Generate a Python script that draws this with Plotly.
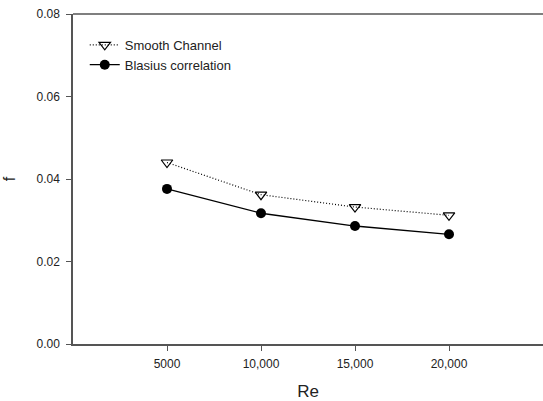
import plotly.graph_objects as go

re_values = [5000, 10000, 15000, 20000]
smooth_f = [0.0440, 0.0362, 0.0332, 0.0312]
blasius_f = [0.0376, 0.0317, 0.0286, 0.0266]
x_tick_vals = [5000, 10000, 15000, 20000]
x_tick_text = ["5000", "10,000", "15,000", "20,000"]
y_tick_vals = [0.00, 0.02, 0.04, 0.06, 0.08]

fig = go.Figure()
fig.add_trace(go.Scatter(
    x=re_values, y=smooth_f, name="Smooth Channel", mode="lines+markers",
    line=dict(color="black", width=1.2, dash="1px,2px"),
    marker=dict(symbol="triangle-down-open", size=10, color="black", line=dict(width=1.2, color="black")),
))
fig.add_trace(go.Scatter(
    x=re_values, y=blasius_f, name="Blasius correlation", mode="lines+markers",
    line=dict(color="black", width=1.3),
    marker=dict(symbol="circle", size=10, color="black"),
))

axis_col = "#555555"
fig.update_layout(
    width=543, height=401,
    margin=dict(l=73, r=0, t=14, b=57),
    paper_bgcolor="white", plot_bgcolor="white",
    font=dict(family="Liberation Sans, Arial, sans-serif", color="#222222"),
    showlegend=True,
    legend=dict(x=0.025, y=0.952, xanchor="left", yanchor="top",
                font=dict(size=13, color="#222222"), bgcolor="rgba(0,0,0,0)",
                tracegroupgap=0, itemwidth=30),
    xaxis=dict(range=[0, 25000], tickvals=x_tick_vals, ticktext=x_tick_text, automargin=False,
               showgrid=False, zeroline=False, showline=True, linecolor=axis_col, linewidth=1.5,
               ticks="outside", ticklen=5, tickcolor=axis_col, tickfont=dict(size=12),
               ticklabelstandoff=3,
               title=dict(text="Re", font=dict(size=17), standoff=18)),
    yaxis=dict(range=[0, 0.08], tickvals=y_tick_vals, tickformat=".2f", automargin=False,
               showgrid=False, zeroline=False, showline=True, linecolor=axis_col, linewidth=1.5,
               ticks="outside", ticklen=5, tickcolor=axis_col, tickfont=dict(size=12),
               ticklabelstandoff=4,
               title=dict(text="f", font=dict(size=16), standoff=17)),
)
fig.add_shape(type="line", xref="paper", yref="paper", x0=0, x1=1, y0=1, y1=1,
              line=dict(color=axis_col, width=1.5))

# remove the browser's default 8px body margin so the figure sits at the page origin
fig.write_html("out.html", config={"displayModeBar": False},
               post_script="document.body.style.margin='0px';")
